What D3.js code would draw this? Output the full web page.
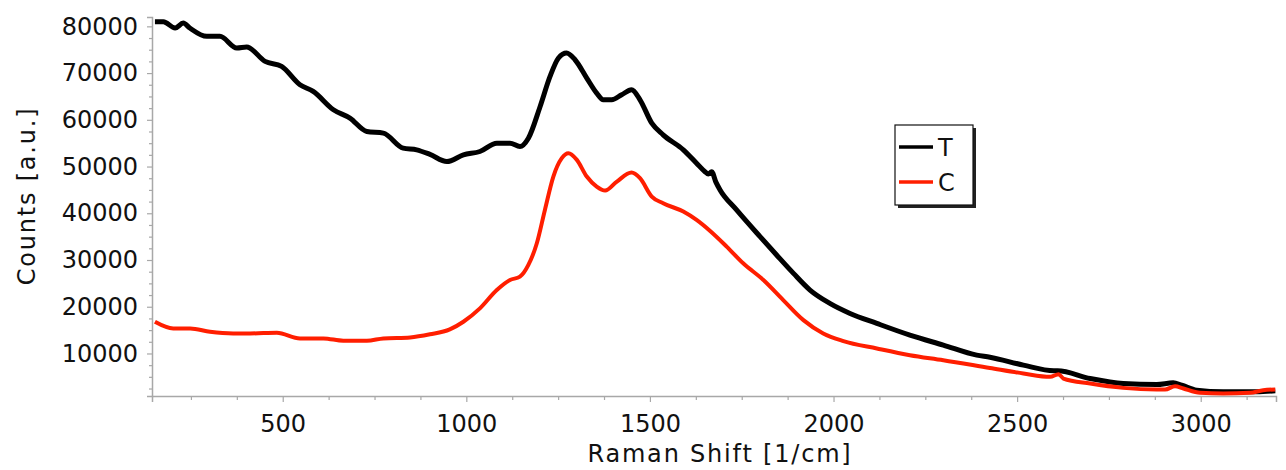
<!DOCTYPE html>
<html>
<head>
<meta charset="utf-8">
<script src="https://cdn.jsdelivr.net/npm/d3@7"></script>
<style>
  body { margin: 0; background: #fff; }
  text { font-family: "DejaVu Sans", Verdana, sans-serif; fill: #111; }
</style>
</head>
<body>
<div id="graph"></div>
<script>
// Raman spectra
var tShift = [152,175,207,229,247,293,329,375,402,452,497,547,583,638,683,729,774,828,865,901,947,992,1037,1083,1119,1146,1169,1201,1228,1251,1273,1296,1328,1355,1373,1396,1423,1450,1473,1505,1536,1591,1627,1650,1659,1668,1680,1691,1736,1800,1845,1891,1936,1990,2045,2118,2208,2299,2390,2426,2517,2600,2610,2699,2789,2880,2925,2948,2989,3061,3152,3203];
var tCounts = [81000,81000,79650,80700,79650,77860,77860,75370,75580,72500,71430,67500,66070,62150,60370,57500,57150,53940,53580,52600,51070,52500,53220,55000,55000,54290,56070,62860,69290,73220,74290,72860,68940,65720,64290,64290,65360,66430,64290,59290,56790,53580,50720,48900,48400,48900,46600,45000,40720,35000,31070,27140,23570,20720,18570,16430,13930,11790,9640,9200,7500,6300,6300,4640,3570,3360,3710,3220,2140,1790,1790,2000];

var cShift = [152,202,248,302,365,411,484,547,611,665,729,774,847,901,955,992,1037,1083,1119,1146,1169,1192,1214,1237,1260,1278,1301,1328,1355,1378,1410,1450,1473,1505,1536,1591,1627,1664,1709,1754,1809,1863,1918,1972,2027,2118,2208,2299,2426,2517,2590,2613,2626,2699,2789,2880,2903,2930,2953,2998,3061,3134,3170,3203];
var cCounts = [16790,15370,15370,14650,14290,14290,14430,13220,13220,12720,12720,13220,13430,14100,15150,16790,19650,23570,25720,26430,28940,33580,40720,47860,51790,52860,51430,47860,45720,44860,46790,48720,47500,43580,42150,40360,38570,36200,32860,29290,25720,21430,17140,14290,12650,11070,9640,8570,6900,5720,5000,5570,4640,3570,2640,2290,2290,3000,2500,1570,1430,1570,2140,2290];

var seriesNames = ["T", "C"];
var seriesColors = ["#000000", "#ff1e00"];

var xTicks = [500, 1000, 1500, 2000, 2500, 3000];
var yTicks = [10000, 20000, 30000, 40000, 50000, 60000, 70000, 80000];

var w = 1286, h = 470;
var margin = {left: 152, right: 1276, top: 17, bottom: 396};

var svg = d3.select("#graph").append("svg")
  .attr("width", w)
  .attr("height", h);

var x = d3.scaleLinear().domain([144, 3205]).range([margin.left, margin.right]);
var y = d3.scaleLinear().domain([900, 82000]).range([margin.bottom, margin.top]);

var axisColor = "#a8a8a8";

// minor ticks
var xMinor = d3.range(250, 3206, 125).filter(function(v) { return xTicks.indexOf(v) < 0; });
var yMinor = d3.range(2500, 82001, 2500).filter(function(v) { return yTicks.indexOf(v) < 0; });

svg.append("g")
  .attr("transform", "translate(0," + margin.bottom + ")")
  .call(d3.axisBottom(x).tickValues(xTicks).tickSize(6).tickPadding(13).tickFormat(d3.format("d")));
svg.append("g")
  .attr("transform", "translate(0," + margin.bottom + ")")
  .call(d3.axisBottom(x).tickValues(xMinor).tickSize(4).tickFormat(""))
  .select(".domain").remove();

svg.append("g")
  .attr("transform", "translate(" + margin.left + ",0)")
  .call(d3.axisLeft(y).tickValues(yTicks).tickSize(5).tickPadding(9).tickFormat(d3.format("d")));
svg.append("g")
  .attr("transform", "translate(" + margin.left + ",0)")
  .call(d3.axisLeft(y).tickValues(yMinor).tickSize(3).tickFormat(""))
  .select(".domain").remove();

svg.selectAll(".domain").attr("stroke", axisColor).attr("stroke-width", 1.5);
svg.selectAll(".tick line").attr("stroke", axisColor).attr("stroke-width", 1.2);
svg.selectAll(".tick text")
  .style("font-family", '"DejaVu Sans", Verdana, sans-serif')
  .style("font-size", "24px")
  .attr("fill", "#111");

// axis titles
svg.append("text")
  .attr("x", 720)
  .attr("y", 462)
  .attr("text-anchor", "middle")
  .style("font-size", "24px")
  .style("letter-spacing", "1.8px")
  .text("Raman Shift [1/cm]");

svg.append("text")
  .attr("transform", "translate(35,196) rotate(-90)")
  .attr("text-anchor", "middle")
  .style("font-size", "24px")
  .style("letter-spacing", "1.8px")
  .text("Counts [a.u.]");

var line = d3.line()
  .x(function(d) { return x(d[0]); })
  .y(function(d) { return y(d[1]); })
  .curve(d3.curveMonotoneX);

var tData = d3.zip(tShift, tCounts);
var cData = d3.zip(cShift, cCounts);

svg.append("path")
  .datum(tData)
  .attr("fill", "none")
  .attr("stroke", seriesColors[0])
  .attr("stroke-width", 5)
  .attr("stroke-linejoin", "round")
  .attr("d", line);

svg.append("path")
  .datum(cData)
  .attr("fill", "none")
  .attr("stroke", seriesColors[1])
  .attr("stroke-width", 4)
  .attr("stroke-linejoin", "round")
  .attr("d", line);

// legend with drop shadow
var lg = svg.append("g").attr("transform", "translate(895,125)");
lg.append("rect")
  .attr("x", 3).attr("y", 3)
  .attr("width", 78).attr("height", 80)
  .attr("fill", "#222");
lg.append("rect")
  .attr("width", 78).attr("height", 80)
  .attr("fill", "#fff")
  .attr("stroke", "#111")
  .attr("stroke-width", 1.2);

seriesNames.forEach(function(name, i) {
  var yy = 22 + i * 35;
  lg.append("line")
    .attr("x1", 4).attr("x2", 38)
    .attr("y1", yy).attr("y2", yy)
    .attr("stroke", seriesColors[i])
    .attr("stroke-width", 3.5);
  lg.append("text")
    .attr("x", 43)
    .attr("y", yy + 9)
    .style("font-size", "24px")
    .text(name);
});
</script>
</body>
</html>
